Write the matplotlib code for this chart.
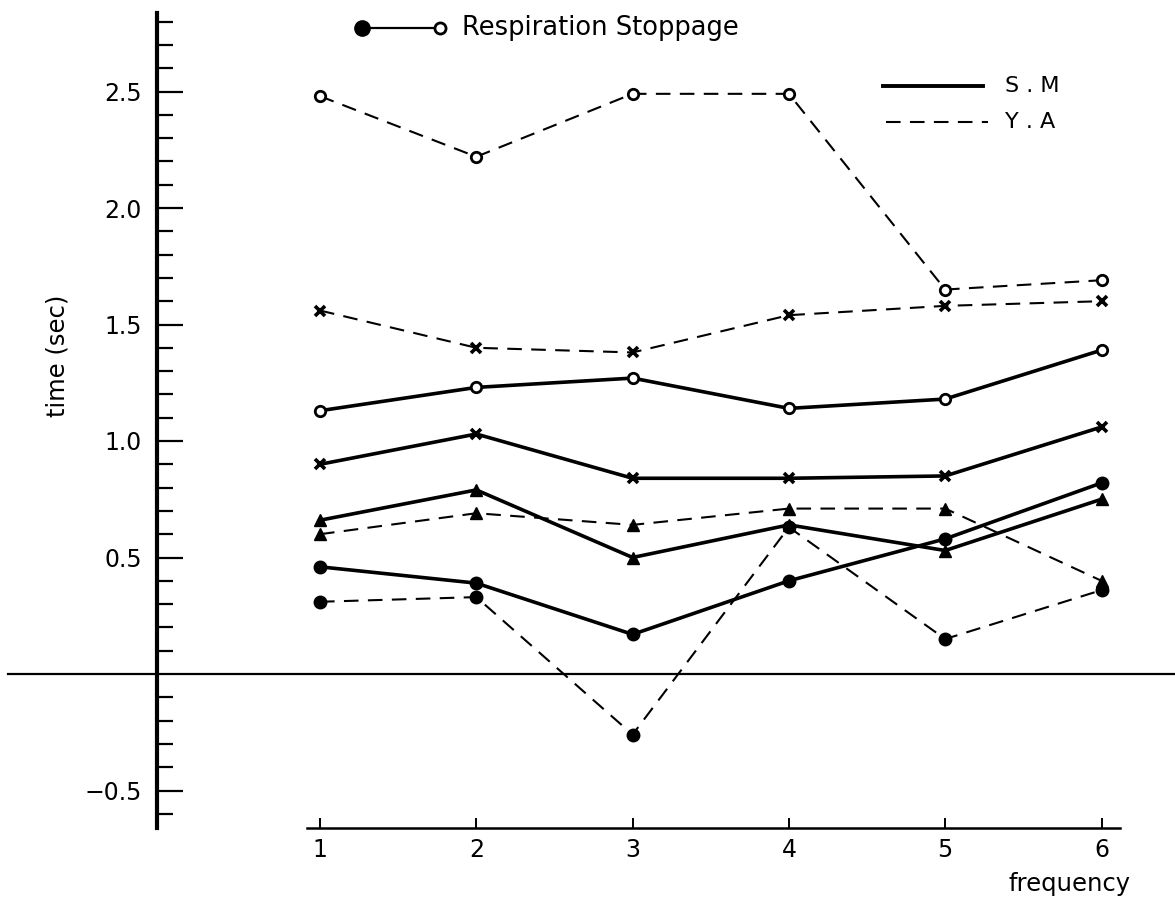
import matplotlib
matplotlib.use("Agg")
import matplotlib.pyplot as plt
from matplotlib.lines import Line2D
from matplotlib.ticker import FixedLocator
import numpy as np

plt.rcParams['font.family'] = ['DejaVu Sans']

# ---------------- data ----------------
freq = [1, 2, 3, 4, 5, 6]

# S.M (solid lines)
sm_open = [1.13, 1.23, 1.27, 1.14, 1.18, 1.39]
sm_cross = [0.90, 1.03, 0.84, 0.84, 0.85, 1.06]
sm_tri = [0.66, 0.79, 0.50, 0.64, 0.53, 0.75]
sm_dot = [0.46, 0.39, 0.17, 0.40, 0.58, 0.82]

# Y.A (dashed lines)
ya_open = [2.48, 2.22, 2.49, 2.49, 1.65, 1.69]
ya_cross = [1.56, 1.40, 1.38, 1.54, 1.58, 1.60]
ya_tri = [0.60, 0.69, 0.64, 0.71, 0.71, 0.40]
ya_dot = [0.31, 0.33, -0.26, 0.63, 0.15, 0.36]

y_major = [-0.5, 0.5, 1.0, 1.5, 2.0, 2.5]
y_major_labels = ['\u22120.5', '0.5', '1.0', '1.5', '2.0', '2.5']
x_labels = ['1', '2', '3', '4', '5', '6']

# ---------------- figure ----------------
W, H = 1175, 900
fig = plt.figure(figsize=(W / 100, H / 100), dpi=100)
ax = fig.add_axes([0, 0, 1, 1])

# pixel mapping of the reference
X0PX, XSTEP = 320, 156.3
Y0PX, YUNIT = 674, 233.0
ax.set_xlim(1 - X0PX / XSTEP, 1 + (W - X0PX) / XSTEP)
ax.set_ylim((Y0PX - H) / YUNIT, Y0PX / YUNIT)

def px2x(px):
    return 1 + (px - X0PX) / XSTEP

def py2y(py):
    return (Y0PX - py) / YUNIT

ax.patch.set_visible(False)
for s in ['top', 'right']:
    ax.spines[s].set_visible(False)

y_bottom = py2y(828)
ax.spines['left'].set_position(('data', px2x(157)))
ax.spines['left'].set_bounds(y_bottom, py2y(13))
ax.spines['left'].set_linewidth(3.0)
ax.spines['bottom'].set_position(('data', y_bottom))
ax.spines['bottom'].set_bounds(px2x(307), px2x(1120))
ax.spines['bottom'].set_linewidth(1.8)

ax.yaxis.set_major_locator(FixedLocator(y_major))
ax.set_yticklabels(y_major_labels)
minor = [round(v, 1) for v in np.arange(-0.6, 2.85, 0.1)
         if all(abs(v - m) > 1e-6 for m in y_major) and abs(v) > 1e-6]
ax.yaxis.set_minor_locator(FixedLocator(minor))
ax.tick_params(axis='y', which='major', direction='in', length=19, width=1.6,
               labelsize=17, pad=11)
ax.tick_params(axis='y', which='minor', direction='in', length=11.5, width=1.6)

ax.set_xticks(freq)
ax.set_xticklabels(x_labels)
ax.tick_params(axis='x', which='major', direction='in', length=7, width=1.4,
               labelsize=17, pad=7)

# zero line
ax.axhline(0, xmin=8 / W, xmax=1, color='black', lw=1.6, zorder=1)

solid_kw = dict(color='black', lw=2.6, linestyle='-', zorder=3)
dash_kw = dict(color='black', lw=1.5, linestyle=(0, (7, 4.5)), zorder=3)

def draw(vals, kw, marker):
    line_kw = dict(kw)
    if marker == 'open':
        ax.plot(freq, vals, marker='o', ms=7.5, mfc='white', mec='black', mew=2.0, **line_kw)
    elif marker == 'dot':
        ax.plot(freq, vals, marker='o', ms=9, mfc='black', mec='black', **line_kw)
    elif marker == 'tri':
        ax.plot(freq, vals, marker='^', ms=9, mfc='black', mec='black', **line_kw)
    elif marker == 'cross':
        ax.plot(freq, vals, marker='x', ms=6.5, mec='black', mew=2.6, **line_kw)

draw(sm_open, solid_kw, 'open')
draw(sm_cross, solid_kw, 'cross')
draw(sm_tri, solid_kw, 'tri')
draw(sm_dot, solid_kw, 'dot')
draw(ya_open, dash_kw, 'open')
draw(ya_cross, dash_kw, 'cross')
draw(ya_tri, dash_kw, 'tri')
draw(ya_dot, dash_kw, 'dot')

# axis labels
fig.text(57 / W, 1 - 356 / H, 'time (sec)', rotation=90, ha='center', va='center',
         fontsize=17.5)
fig.text(1070 / W, 1 - 884 / H, 'frequency', ha='center', va='center', fontsize=17.5)

# top key: Respiration Stoppage
def fx(px):
    return px / W

def fy(py):
    return 1 - py / H

fig.add_artist(Line2D([fx(362), fx(440)], [fy(28), fy(28)], color='black', lw=1.6))
fig.add_artist(Line2D([fx(362)], [fy(28)], marker='o', ms=11, mfc='black', mec='black',
                      linestyle='none'))
fig.add_artist(Line2D([fx(440)], [fy(28)], marker='o', ms=8, mfc='white', mec='black',
                      mew=2.0, linestyle='none'))
fig.text(fx(462), fy(28), 'Respiration Stoppage', ha='left', va='center', fontsize=18.5)

# S.M / Y.A key
fig.add_artist(Line2D([fx(883), fx(983)], [fy(86), fy(86)], color='black', lw=2.8))
fig.add_artist(Line2D([fx(886), fx(988)], [fy(122), fy(122)], color='black', lw=1.5,
                      linestyle=(0, (7, 4.5))))
fig.text(fx(1005), fy(86), 'S . M', ha='left', va='center', fontsize=16)
fig.text(fx(1005), fy(122), 'Y . A', ha='left', va='center', fontsize=16)

fig.savefig('out.png', dpi=100)
